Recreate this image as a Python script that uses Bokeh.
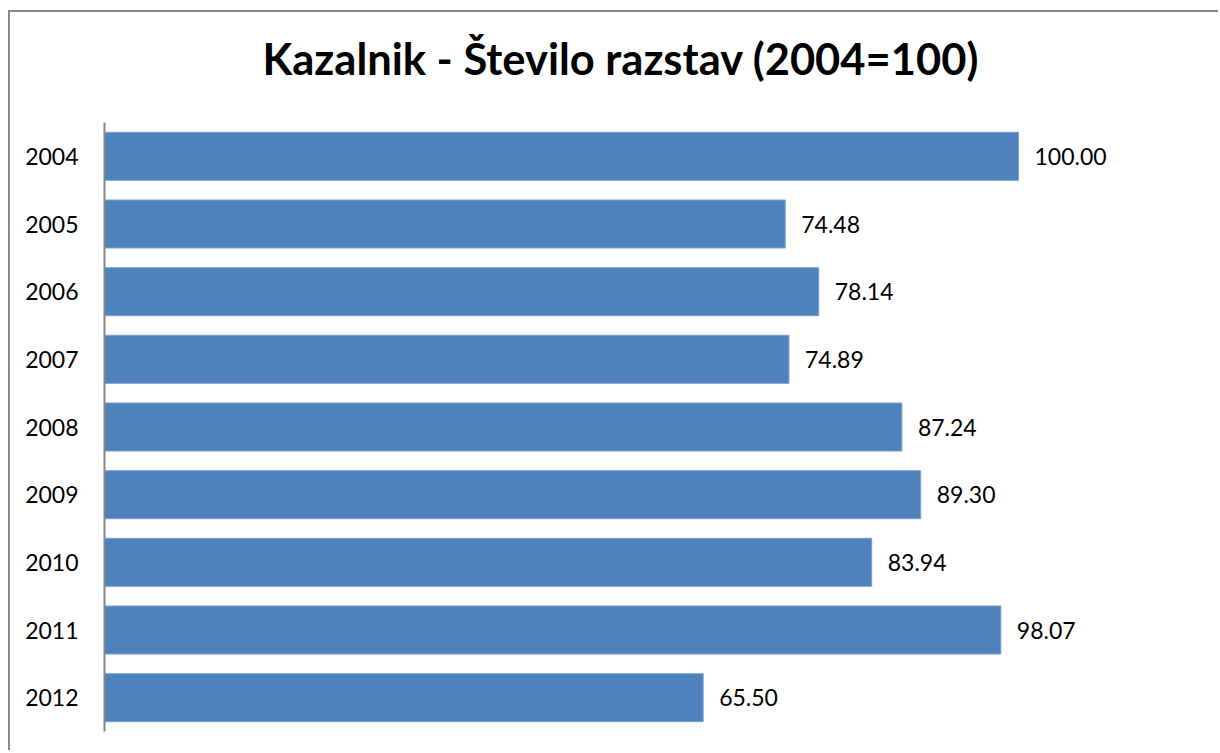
from bokeh.plotting import figure
from bokeh.models import ColumnDataSource, Range1d, FactorRange, Title
from bokeh.core.properties import value
from bokeh.embed import file_html
from bokeh.resources import INLINE

title_text = "Kazalnik - Število razstav (2004=100)"
years = ["2004", "2005", "2006", "2007", "2008", "2009", "2010", "2011", "2012"]
values = [100.00, 74.48, 78.14, 74.89, 87.24, 89.30, 83.94, 98.07, 65.50]
value_labels = ["%.2f" % v for v in values]
x_end = 122.1

src = ColumnDataSource(dict(year=years, val=values, lab=value_labels))

p = figure(
    width=1210, height=740,
    y_range=FactorRange(*reversed(years), range_padding=0),
    x_range=Range1d(0, x_end),
    x_axis_location=None,
    output_backend="svg", toolbar_location=None,
    min_border_left=94, min_border_right=0, min_border_top=110, min_border_bottom=21,
)
p.styles = {
    "margin-left": "8px", "margin-top": "10px",
    "border-top": "2px solid #8a8a8a", "border-left": "2px solid #8a8a8a",
}
p.outline_line_color = None
p.xgrid.visible = False
p.ygrid.visible = False

# spacer between frame and title (added first -> closest to the frame)
spacer = Title(text=" ", text_font_size="1px", standoff=19)
p.add_layout(spacer, "above")
main_title = Title(text=title_text, text_font="Lato", text_font_style="bold",
                   text_font_size="43.5px", align="left", offset=158, standoff=34,
                   text_color="#000000")
p.add_layout(main_title, "above")

p.hbar(y="year", right="val", left=0, height=0.71, source=src,
       fill_color="#4F81BD", line_color="#7DA1CE", line_width=1)

p.text(x="val", y="year", text="lab", source=src, x_offset=16,
       text_baseline="middle", text_align="left",
       text_font=value("Lato"), text_font_size="23px", text_color="#000000")

ax = p.yaxis[0]
ax.axis_line_color = "#868686"
ax.axis_line_width = 2
ax.major_tick_line_color = None
ax.minor_tick_line_color = None
ax.major_tick_out = 0
ax.major_tick_in = 0
ax.major_label_standoff = 26
ax.major_label_text_font = "Lato"
ax.major_label_text_font_size = "23px"
ax.major_label_text_color = "#000000"

open("out.html", "w").write(file_html(p, INLINE))
